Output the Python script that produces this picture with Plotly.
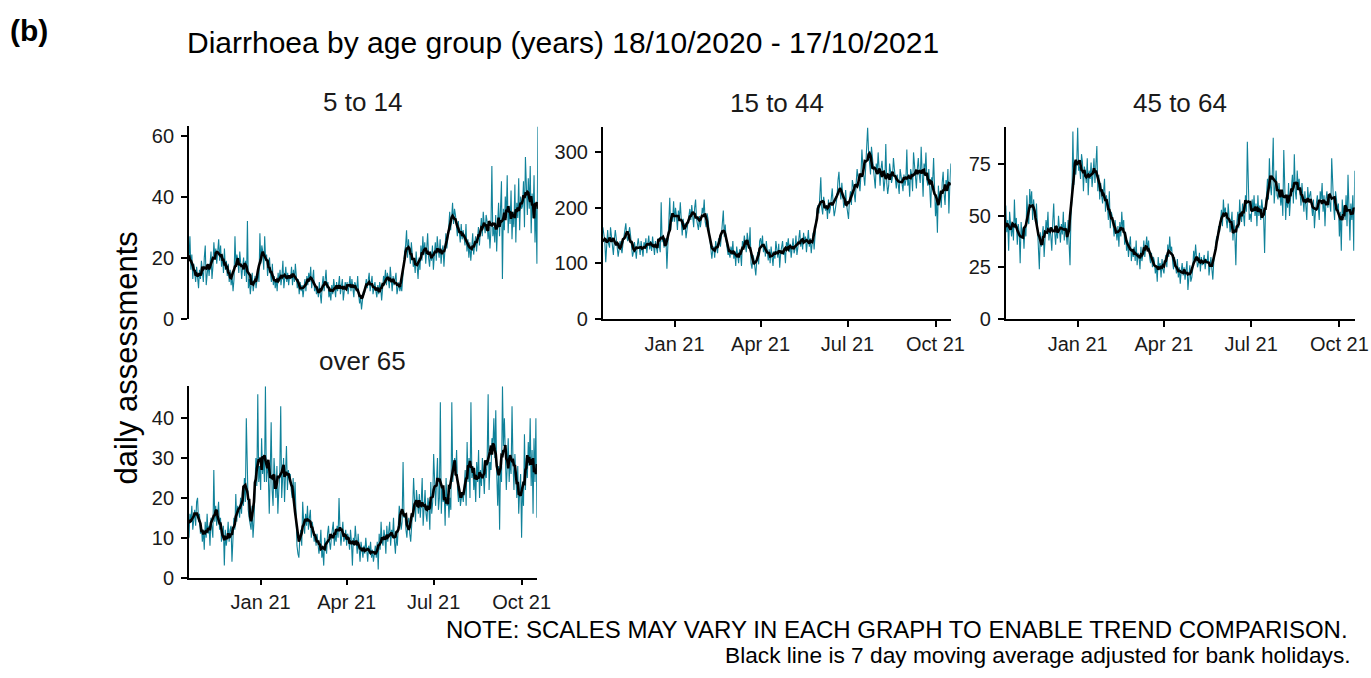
import pandas as pd
import plotly.graph_objects as go

# Daily diarrhoea assessments, 18/10/2020 - 17/10/2021 (one value per day)
dates = pd.date_range("2020-10-18", "2021-10-17", freq="D")

age_5_14 = [
    19, 27, 16, 21, 13, 18, 15, 12, 17, 14, 10, 16, 13, 19,
    15, 12, 20, 24, 11, 16, 18, 14, 19, 22, 13, 17, 25, 20, 23, 18, 22, 26, 19, 24, 17, 21, 15, 23, 16, 19, 14, 18, 12, 16,
    11, 14, 9, 13, 27, 17, 21, 19, 15, 22, 18, 13, 17, 20, 14, 19, 12, 32, 10, 13, 8, 12, 15, 9, 11, 14, 10, 13, 16, 12, 28,
    18, 24, 22, 16, 27, 19, 21, 14, 17, 20, 15, 12, 18, 11, 14, 10, 13, 9, 15, 12, 16, 11, 14, 19, 10, 13, 17, 12, 15, 11, 14,
    13, 17, 11, 16, 12, 18, 14, 10, 13, 8, 12, 9, 11, 7, 10, 13, 9, 14, 11, 15, 12, 17, 10, 13, 16, 9, 11, 8,
    10, 7, 12, 8, 5, 11, 14, 9, 13, 16, 10, 12, 7, 9, 6, 11, 8, 13, 10, 7, 12, 9, 11, 14, 8, 10, 13, 6, 9, 12, 10,
    12, 8, 11, 14, 9, 13, 10, 7, 12, 11, 9, 14, 8, 5, 7, 3, 6, 9, 8, 11, 13, 10, 12, 15, 9, 11, 14, 8, 10, 12,
    9, 7, 11, 8, 12, 10, 6, 9, 14, 12, 16, 11, 15, 13, 10, 17, 12, 9, 14, 11, 13, 15, 8, 10, 12, 9, 11, 9, 14, 18, 22,
    24, 29, 20, 26, 22, 18, 25, 21, 17, 19, 15, 22, 18, 13, 20, 16, 24, 19, 27, 21, 25, 18, 23, 28, 20, 17, 22, 19, 24, 16,
    21, 25, 19, 27, 23, 20, 26, 18, 22, 24, 17, 21, 28, 23, 26, 30, 35, 29, 33, 38, 31, 36, 34, 30, 27, 32, 28, 25, 31, 26, 29,
    27, 24, 31, 22, 26, 20, 25, 19, 23, 28, 21, 24, 27, 22, 26, 30, 24, 29, 33, 27, 35, 31, 28, 34, 32, 26, 30, 23, 29, 50, 27,
    30, 25, 34, 22, 31, 38, 27, 35, 45, 13, 36, 29, 40, 33, 47, 28, 37, 31, 42, 26, 35, 30, 44, 25, 38, 33, 46, 29, 40, 36,
    37, 45, 30, 53, 42, 34, 46, 36, 50, 28, 41, 33, 47, 25, 38, 18, 63,
]

age_15_44 = [
    165, 150, 140, 102, 148, 160, 135, 128, 165, 150, 138, 115, 142, 160,
    145, 130, 112, 125, 140, 128, 118, 135, 150, 160, 172, 148, 140, 155, 165, 150, 128, 112, 120, 138, 125, 108, 132, 145, 130, 115, 140, 122, 112, 138,
    128, 145, 118, 135, 150, 125, 140, 122, 148, 132, 115, 140, 128, 118, 145, 130, 120, 210, 138, 150, 128, 140, 145, 90, 130, 155, 218, 160, 190, 175, 212,
    175, 200, 185, 160, 195, 178, 210, 168, 150, 180, 165, 172, 145, 160, 175, 190, 198, 178, 205, 185, 165, 200, 215, 180, 172, 160, 185, 165, 178, 200, 190,
    215, 175, 165, 190, 180, 160, 145, 120, 108, 125, 130, 110, 140, 128, 118, 145, 135, 130, 150, 175, 195, 148, 170, 140, 125, 115, 120, 110,
    130, 115, 140, 108, 122, 95, 130, 112, 100, 125, 118, 95, 140, 130, 150, 135, 120, 155, 140, 128, 165, 100, 90, 115, 108, 92, 78, 105, 120, 98, 140,
    145, 128, 150, 120, 135, 112, 140, 118, 105, 125, 100, 130, 112, 95, 122, 108, 140, 125, 110, 135, 92, 118, 130, 140, 115, 125, 100, 138, 130, 145,
    120, 135, 110, 130, 145, 118, 125, 150, 115, 128, 140, 160, 130, 145, 125, 155, 138, 148, 120, 140, 160, 130, 145, 118, 135, 155, 125, 160, 175, 195, 205,
    190, 215, 255, 200, 188, 220, 210, 195, 205, 180, 215, 190, 200, 225, 235, 205, 185, 195, 210, 220, 250, 265, 230, 215, 245, 222, 200, 210, 232, 205,
    195, 180, 215, 230, 205, 250, 240, 225, 210, 245, 270, 255, 235, 230, 260, 305, 275, 250, 240, 275, 300, 345, 300, 285, 260, 310, 290, 270, 255, 235, 280,
    265, 300, 255, 240, 270, 285, 260, 230, 250, 315, 245, 225, 240, 280, 265, 245, 255, 290, 270, 250, 235, 260, 240, 225, 270, 255, 245, 230, 260, 240, 250,
    305, 240, 255, 220, 270, 260, 230, 300, 275, 250, 235, 270, 290, 260, 245, 310, 255, 220, 280, 265, 300, 250, 240, 270, 235, 200, 255, 245, 290, 230,
    185, 215, 155, 240, 210, 230, 200, 245, 265, 225, 205, 250, 235, 270, 190, 240, 280,
]

age_45_64 = [
    55, 42, 48, 33, 52, 45, 40, 47, 38, 58, 44, 49, 36, 46,
    42, 27, 47, 39, 44, 34, 45, 40, 60, 50, 46, 63, 55, 62, 48, 58, 52, 47, 56, 44, 38, 24, 42, 35, 40, 45, 30, 38, 48, 43,
    52, 38, 44, 40, 33, 47, 56, 42, 36, 45, 39, 50, 44, 37, 46, 41, 52, 38, 47, 43, 36, 48, 40, 26, 50, 58, 91, 65, 74, 70, 76,
    93, 72, 74, 68, 80, 76, 62, 74, 70, 66, 78, 60, 72, 68, 76, 64, 70, 78, 66, 74, 84, 62, 70, 58, 66, 60, 56, 62, 68, 52, 60,
    55, 48, 62, 44, 52, 50, 46, 40, 48, 42, 38, 45, 35, 47, 40, 52, 44, 48, 36, 42, 33, 38, 30, 36, 40, 28, 34, 30,
    35, 28, 38, 26, 32, 30, 24, 35, 28, 31, 38, 30, 36, 40, 33, 38, 30, 27, 32, 25, 30, 28, 22, 26, 18, 30, 24, 27, 20, 29, 24,
    22, 28, 31, 25, 36, 30, 40, 33, 35, 28, 24, 30, 26, 22, 29, 20, 25, 17, 23, 27, 21, 25, 19, 24, 28, 14, 22, 26, 18, 20,
    24, 33, 28, 36, 30, 25, 27, 32, 23, 30, 26, 28, 31, 24, 29, 27, 33, 21, 26, 30, 24, 19, 28, 32, 35, 40, 38, 45, 42, 48, 53,
    45, 58, 50, 54, 48, 44, 56, 50, 42, 46, 52, 38, 48, 40, 26, 46, 52, 44, 58, 50, 47, 56, 49, 45, 60, 52, 86, 55, 48, 51,
    47, 58, 52, 60, 50, 56, 45, 60, 50, 55, 48, 58, 52, 49, 32, 55, 60, 68, 58, 78, 65, 60, 70, 88, 56, 64, 72, 60, 58, 66, 62,
    55, 62, 50, 82, 58, 48, 60, 54, 66, 50, 58, 63, 70, 56, 80, 62, 58, 72, 64, 68, 60, 55, 66, 58, 52, 62, 56, 48, 64, 58, 60,
    62, 55, 50, 58, 44, 52, 56, 60, 54, 48, 62, 58, 66, 52, 60, 45, 58, 62, 54, 60, 56, 52, 78, 60, 55, 48, 62, 58, 52, 56,
    40, 52, 33, 58, 50, 55, 48, 60, 45, 70, 52, 38, 56, 48, 60, 33, 72,
]

age_over_65 = [
    10, 16, 14, 18, 12, 15, 17, 13, 19, 20, 14, 16, 11, 13,
    9, 12, 7, 14, 10, 16, 11, 13, 8, 15, 12, 10, 27, 14, 18, 13, 16, 19, 12, 15, 9, 11, 13, 3, 12, 8, 10, 14, 9, 12,
    13, 4, 10, 15, 12, 21, 14, 18, 17, 15, 20, 16, 22, 18, 25, 19, 40, 22, 17, 15, 13, 12, 18, 10, 14, 26, 30, 23, 46, 24, 28,
    22, 35, 26, 30, 24, 48, 24, 28, 26, 16, 26, 39, 22, 18, 30, 24, 20, 28, 16, 22, 26, 43, 20, 25, 30, 19, 28, 33, 22, 27, 25,
    26, 22, 20, 25, 18, 24, 14, 8, 6, 5, 10, 12, 8, 19, 14, 11, 16, 13, 18, 12, 15, 17, 10, 14, 12, 9, 11, 8,
    11, 9, 6, 8, 12, 5, 7, 3, 10, 8, 6, 11, 13, 9, 7, 10, 12, 14, 8, 11, 9, 13, 10, 20, 12, 8, 11, 14, 9, 10, 12,
    8, 11, 10, 7, 12, 9, 3, 10, 8, 13, 9, 6, 11, 8, 4, 9, 7, 5, 8, 6, 10, 7, 4, 8, 6, 9, 5, 7, 4, 6,
    8, 5, 9, 2, 11, 7, 14, 9, 8, 12, 10, 6, 13, 9, 11, 14, 8, 12, 10, 15, 9, 6, 11, 8, 13, 18, 16, 12, 14, 29, 15,
    16, 12, 10, 14, 15, 11, 9, 13, 17, 25, 20, 14, 22, 18, 16, 21, 15, 19, 25, 13, 17, 22, 16, 14, 20, 18, 12, 24, 16, 19,
    31, 22, 18, 24, 30, 17, 20, 44, 16, 23, 19, 22, 13, 25, 18, 21, 15, 20, 17, 44, 24, 28, 30, 26, 32, 22, 19, 23, 18, 20, 21,
    19, 22, 27, 18, 34, 24, 30, 20, 44, 25, 28, 22, 26, 19, 29, 24, 32, 20, 27, 23, 30, 26, 21, 28, 25, 30, 46, 22, 29, 27, 35,
    33, 40, 30, 42, 26, 18, 28, 12, 30, 24, 48, 33, 40, 27, 22, 28, 35, 24, 30, 26, 43, 29, 22, 31, 25, 20, 28, 16, 22, 26,
    10, 24, 18, 36, 22, 30, 25, 34, 28, 40, 23, 32, 16, 35, 24, 40, 15,
]

panel_titles = ["5 to 14", "15 to 44", "45 to 64", "over 65"]
panel_series = [age_5_14, age_15_44, age_45_64, age_over_65]
panel_yticks = [[0, 20, 40, 60], [0, 100, 200, 300], [0, 25, 50, 75], [0, 10, 20, 30, 40]]
date_ticks = ["2021-01-01", "2021-04-01", "2021-07-01", "2021-10-01"]
date_tick_labels = ["Jan 21", "Apr 21", "Jul 21", "Oct 21"]

W, H = 1371, 678
# The page is shown slightly reduced; layout positions are stretched to offset that
SX, SY = 0.99, 0.985
FONT = "Liberation Sans, Arial, sans-serif"
TEAL = "#10829a"
TEXT = "#1a1a1a"


def fx(px):
    return min(px / SX / W, 1.0)


def fy(py):
    return max(1 - py / SY / H, 0.0)


# Panel boxes in pixels: (left, right, top, bottom)
boxes = [
    (189, 538, 125, 318),
    (603, 951, 126, 318),
    (1006, 1355, 126, 318),
    (189, 537, 386, 578),
]
show_x = [False, True, True, True]

fig = go.Figure()
layout = dict(
    width=W, height=H,
    margin=dict(l=0, r=0, t=0, b=0),
    paper_bgcolor="white", plot_bgcolor="white",
    showlegend=False,
    font=dict(family=FONT, color="black"),
)
annotations = []

for i, (vals, title, yt, box, sx) in enumerate(zip(panel_series, panel_titles, panel_yticks, boxes, show_x)):
    n = "" if i == 0 else str(i + 1)
    s = pd.Series(vals, index=dates, dtype=float)
    ma = s.rolling(7, center=True, min_periods=1).mean()
    fig.add_trace(go.Scatter(x=dates, y=s.values, mode="lines",
                             line=dict(color=TEAL, width=1.1),
                             xaxis="x" + n, yaxis="y" + n, hoverinfo="skip"))
    fig.add_trace(go.Scatter(x=dates, y=ma.values, mode="lines",
                             line=dict(color="black", width=2.6),
                             xaxis="x" + n, yaxis="y" + n))
    l, r, t, b = box
    layout["xaxis" + n] = dict(
        domain=[fx(l), fx(r)], anchor="y" + n,
        range=[dates[0], dates[-1]],
        showgrid=False, zeroline=False,
        showline=sx, linecolor="black", linewidth=1.8,
        ticks="outside" if sx else "", ticklen=6, tickwidth=1.6, tickcolor="black",
        tickvals=date_ticks, ticktext=date_tick_labels,
        showticklabels=sx, tickfont=dict(size=20, color=TEXT),
    )
    layout["yaxis" + n] = dict(
        domain=[fy(b), fy(t)], anchor="x" + n,
        range=[0, max(vals)],
        showgrid=False, zeroline=False,
        showline=True, linecolor="black", linewidth=1.8,
        ticks="outside", ticklen=6, tickwidth=1.6, tickcolor="black",
        tickvals=yt, tickfont=dict(size=20, color=TEXT),
        ticklabelstandoff=3,
    )
    annotations.append(dict(text=title, x=fx((l + r) / 2), y=fy(t - 25),
                            xref="paper", yref="paper", showarrow=False,
                            xanchor="center", yanchor="middle",
                            font=dict(size=26, color=TEXT)))

annotations += [
    dict(text="<b>(b)</b>", x=fx(8), y=fy(29), xref="paper", yref="paper",
         showarrow=False, xanchor="left", yanchor="middle", font=dict(size=30)),
    dict(text="Diarrhoea by age group (years) 18/10/2020 - 17/10/2021",
         x=fx(185), y=fy(41), xref="paper", yref="paper", showarrow=False,
         xanchor="left", yanchor="middle", font=dict(size=30)),
    dict(text="daily assessments", x=fx(127), y=fy(357), xref="paper", yref="paper",
         showarrow=False, textangle=-90, xanchor="center", yanchor="middle",
         font=dict(size=31)),
    dict(text="NOTE: SCALES MAY VARY IN EACH GRAPH TO ENABLE TREND COMPARISON.",
         x=fx(1350), y=fy(630), xref="paper", yref="paper", showarrow=False,
         xanchor="right", yanchor="middle", font=dict(size=24)),
    dict(text="Black line is 7 day moving average adjusted for bank holidays.",
         x=fx(1353), y=fy(656), xref="paper", yref="paper", showarrow=False,
         xanchor="right", yanchor="middle", font=dict(size=22.7)),
]
layout["annotations"] = annotations
fig.update_layout(**layout)
fig.write_html("out.html")
